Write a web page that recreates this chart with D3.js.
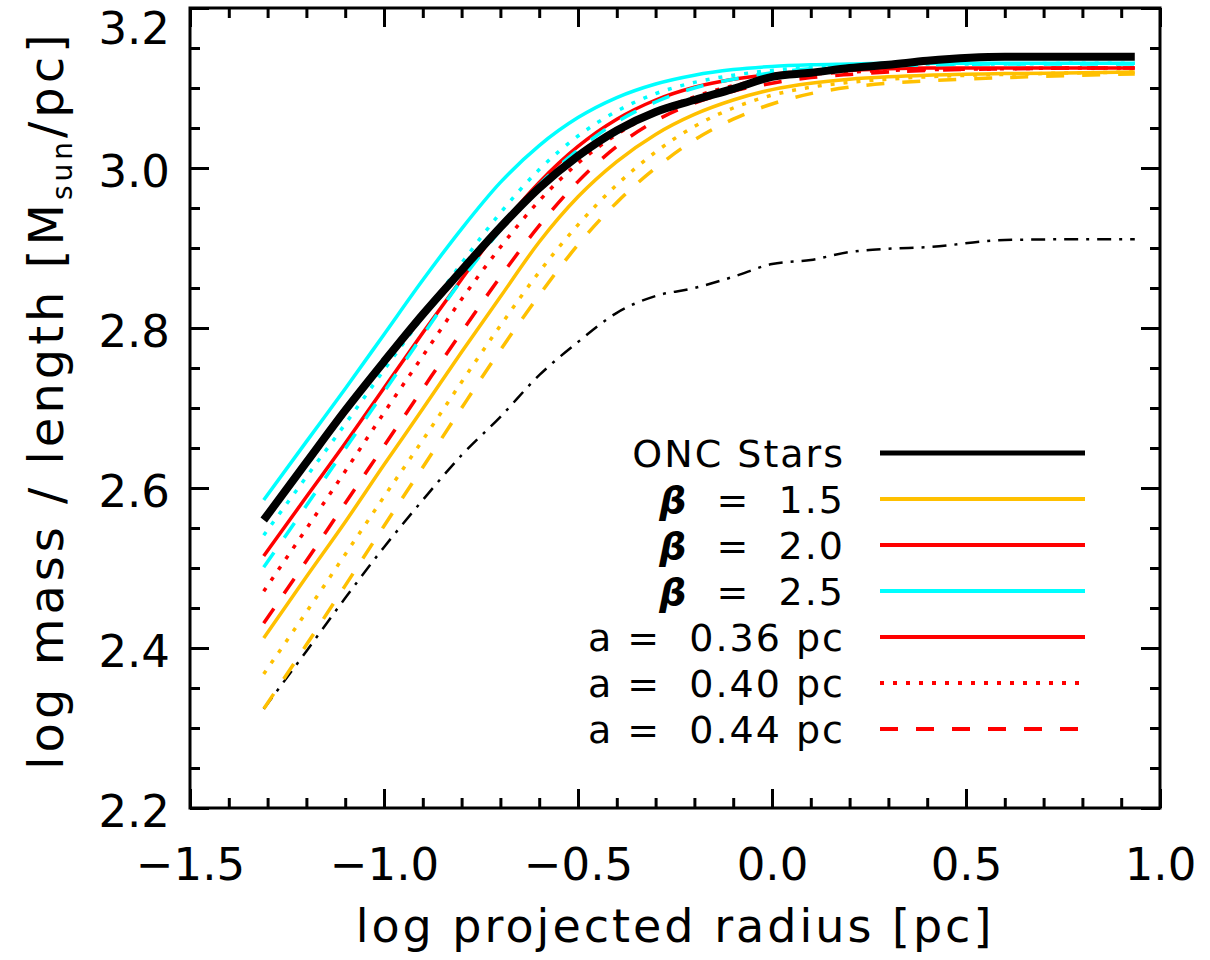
<!DOCTYPE html>
<html>
<head>
<meta charset="utf-8">
<script src="https://cdn.jsdelivr.net/npm/d3@7"></script>
<style>
    body { margin: 0; background: #fff; }
    text { font-family: "DejaVu Sans", sans-serif; fill: #000; }
</style>
</head>
<body>
<div id="chart"></div>
<script>
// log projected radius (pc) shared by all curves
var logR = [-1.31, -1.2, -1.1, -1.0, -0.9, -0.8, -0.7, -0.6, -0.5, -0.4, -0.3, -0.2, -0.1, 0.0, 0.1, 0.2, 0.3, 0.4, 0.6, 0.8, 0.935];

// log mass / length
var oncStars = [2.56, 2.632, 2.697, 2.758, 2.817, 2.872, 2.926, 2.975, 3.015, 3.047, 3.07, 3.085, 3.099, 3.114, 3.119, 3.125, 3.129, 3.134, 3.139, 3.139, 3.139];
var gasCurve = [2.324, 2.396, 2.4625, 2.526, 2.585, 2.641, 2.689, 2.741, 2.7825, 2.819, 2.84, 2.85, 2.864, 2.88, 2.885, 2.895, 2.899, 2.901, 2.91, 2.911, 2.911];

var beta15a36 = [2.4125, 2.489, 2.5575, 2.629, 2.699, 2.77, 2.839, 2.9075, 2.964, 3.008, 3.042, 3.067, 3.085, 3.098, 3.106, 3.111, 3.114, 3.116, 3.118, 3.119, 3.12];
var beta15a40 = [2.3675, 2.445, 2.517, 2.589, 2.66, 2.7325, 2.803, 2.87, 2.929, 2.979, 3.02, 3.052, 3.075, 3.091, 3.101, 3.107, 3.111, 3.114, 3.117, 3.119, 3.12];
var beta15a44 = [2.324, 2.404, 2.478, 2.5525, 2.626, 2.7, 2.7725, 2.841, 2.904, 2.957, 3.0, 3.035, 3.061, 3.08, 3.093, 3.101, 3.106, 3.109, 3.113, 3.116, 3.1175];

var beta20a36 = [2.515, 2.589, 2.656, 2.725, 2.794, 2.861, 2.926, 2.982, 3.027, 3.061, 3.085, 3.101, 3.111, 3.117, 3.12, 3.122, 3.124, 3.125, 3.125, 3.125, 3.125];
var beta20a40 = [2.471, 2.549, 2.621, 2.694, 2.765, 2.836, 2.901, 2.959, 3.006, 3.042, 3.069, 3.089, 3.103, 3.112, 3.117, 3.12, 3.122, 3.123, 3.124, 3.125, 3.125];
var beta20a44 = [2.431, 2.509, 2.581, 2.6525, 2.724, 2.795, 2.864, 2.928, 2.983, 3.027, 3.059, 3.081, 3.096, 3.106, 3.113, 3.117, 3.12, 3.122, 3.124, 3.125, 3.125];

var beta25a36 = [2.585, 2.658, 2.724, 2.792, 2.86, 2.924, 2.982, 3.028, 3.063, 3.088, 3.105, 3.116, 3.123, 3.127, 3.129, 3.13, 3.131, 3.131, 3.131, 3.131, 3.131];
var beta25a40 = [2.541, 2.614, 2.68, 2.7475, 2.814, 2.881, 2.944, 2.998, 3.04, 3.071, 3.093, 3.107, 3.116, 3.122, 3.126, 3.128, 3.129, 3.13, 3.13, 3.131, 3.131];
var beta25a44 = [2.501, 2.578, 2.649, 2.72, 2.791, 2.86, 2.9225, 2.979, 3.0225, 3.0575, 3.0825, 3.1, 3.111, 3.119, 3.124, 3.126, 3.1275, 3.129, 3.13, 3.13, 3.13];

// ticks
var xMajorTicks = [-1.5, -1.0, -0.5, 0.0, 0.5, 1.0];
var xTickLabels = ["\u22121.5", "\u22121.0", "\u22120.5", "0.0", "0.5", "1.0"];
var yMajorTicks = [2.2, 2.4, 2.6, 2.8, 3.0, 3.2];
var yTickLabels = ["2.2", "2.4", "2.6", "2.8", "3.0", "3.2"];

var YELLOW = "#ffc000", RED = "#ff0000", CYAN = "#00ffff";
var DOT = "4,9", DASH = "18,18", DASHDOT = "14,8,3,8";

var series = [
    { values: gasCurve, color: "#000", width: 2.5, dash: DASHDOT },
    { values: beta15a44, color: YELLOW, width: 3.5, dash: DASH },
    { values: beta15a40, color: YELLOW, width: 3.5, dash: DOT },
    { values: beta15a36, color: YELLOW, width: 3.5, dash: null },
    { values: beta20a44, color: RED, width: 3.5, dash: DASH },
    { values: beta20a40, color: RED, width: 3.5, dash: DOT },
    { values: beta20a36, color: RED, width: 3.5, dash: null },
    { values: beta25a44, color: CYAN, width: 3.5, dash: DASH },
    { values: beta25a40, color: CYAN, width: 3.5, dash: DOT },
    { values: beta25a36, color: CYAN, width: 3.5, dash: null },
    { values: oncStars, color: "#000", width: 8, dash: null }
];

var legend = [
    { beta: false, text: "ONC Stars", color: "#000", width: 5, dash: null },
    { beta: true, text: " =  1.5", color: YELLOW, width: 4, dash: null },
    { beta: true, text: " =  2.0", color: RED, width: 4, dash: null },
    { beta: true, text: " =  2.5", color: CYAN, width: 4, dash: null },
    { beta: false, text: "a =  0.36 pc", color: RED, width: 4, dash: null },
    { beta: false, text: "a =  0.40 pc", color: RED, width: 4, dash: DOT },
    { beta: false, text: "a =  0.44 pc", color: RED, width: 4, dash: DASH }
];

var margin = { top: 8, right: 50, bottom: 152, left: 190 };
var width = 1210 - margin.left - margin.right,
    height = 960 - margin.top - margin.bottom;

var svg = d3.select("#chart").append("svg")
    .attr("width", 1210)
    .attr("height", 960)
    .append("g")
    .attr("transform", "translate(" + margin.left + "," + margin.top + ")");

var x = d3.scaleLinear().domain([-1.5, 1.0]).range([0, width]);
var y = d3.scaleLinear().domain([2.2, 3.2]).range([height, 0]);

var xMinor = d3.range(-15, 11).map(function (d) { return d / 10; });
var yMinor = d3.range(44, 65).map(function (d) { return d / 20; });

function styleAxis(g) {
    g.select(".domain").remove();
    g.selectAll(".tick line").attr("stroke", "#000").attr("stroke-width", 3);
    g.selectAll(".tick text").attr("font-size", 45).attr("fill", "#000")
        .style("font-family", "'DejaVu Sans', sans-serif");
}

// minor ticks on all four sides
svg.append("g").attr("transform", "translate(0," + height + ")")
    .call(d3.axisBottom(x).tickValues(xMinor).tickSize(-10).tickFormat("")).call(styleAxis);
svg.append("g")
    .call(d3.axisTop(x).tickValues(xMinor).tickSize(-10).tickFormat("")).call(styleAxis);
svg.append("g")
    .call(d3.axisLeft(y).tickValues(yMinor).tickSize(-10).tickFormat("")).call(styleAxis);
svg.append("g").attr("transform", "translate(" + width + ",0)")
    .call(d3.axisRight(y).tickValues(yMinor).tickSize(-10).tickFormat("")).call(styleAxis);

// major ticks
svg.append("g").attr("transform", "translate(0," + height + ")")
    .call(d3.axisBottom(x).tickValues(xMajorTicks).tickSize(-19).tickPadding(40)
        .tickFormat(function (d, i) { return xTickLabels[i]; }))
    .call(styleAxis);
svg.append("g")
    .call(d3.axisTop(x).tickValues(xMajorTicks).tickSize(-19).tickFormat("")).call(styleAxis);
var yAxisG = svg.append("g")
    .call(d3.axisLeft(y).tickValues(yMajorTicks).tickSize(-19).tickPadding(20)
        .tickFormat(function (d, i) { return yTickLabels[i]; }))
    .call(styleAxis);
yAxisG.selectAll(".tick text").attr("dy", "0.4em");
// top label sits lower so it stays inside the page
yAxisG.selectAll(".tick text").filter(function (d) { return d === 3.2; }).attr("dy", "0.78em");
svg.append("g").attr("transform", "translate(" + width + ",0)")
    .call(d3.axisRight(y).tickValues(yMajorTicks).tickSize(-19).tickFormat("")).call(styleAxis);

svg.append("rect")
    .attr("width", width)
    .attr("height", height)
    .attr("fill", "none")
    .attr("stroke", "#000")
    .attr("stroke-width", 3);

var line = d3.line()
    .x(function (d, i) { return x(logR[i]); })
    .y(function (d) { return y(d); })
    .curve(d3.curveMonotoneX);

svg.selectAll(".curve")
    .data(series)
    .enter().append("path")
    .attr("class", "curve")
    .attr("d", function (d) { return line(d.values); })
    .attr("fill", "none")
    .attr("stroke", function (d) { return d.color; })
    .attr("stroke-width", function (d) { return d.width; })
    .attr("stroke-dasharray", function (d) { return d.dash; });

// legend
var rows = svg.append("g").selectAll(".row")
    .data(legend)
    .enter().append("g")
    .attr("class", "row")
    .attr("transform", function (d, i) { return "translate(0," + (445 + i * 46) + ")"; });

rows.append("line")
    .attr("x1", 690).attr("x2", 895)
    .attr("stroke", function (d) { return d.color; })
    .attr("stroke-width", function (d) { return d.width; })
    .attr("stroke-dasharray", function (d) { return d.dash; });

var lt = rows.append("text")
    .attr("x", 655)
    .attr("y", 14)
    .attr("text-anchor", "end")
    .attr("font-size", 38)
    .attr("letter-spacing", 2)
    .attr("xml:space", "preserve");
lt.filter(function (d) { return d.beta; }).append("tspan")
    .attr("font-weight", "bold").attr("font-style", "italic").text("\u03b2");
lt.append("tspan").text(function (d) { return d.beta ? " " + d.text : d.text; });

// axis titles
svg.append("text")
    .attr("x", width / 2)
    .attr("y", 934)
    .attr("text-anchor", "middle")
    .attr("font-size", 46)
    .attr("letter-spacing", 3)
    .text("log projected radius [pc]");

var yt = svg.append("text")
    .attr("transform", "translate(-127," + 392 + ") rotate(-90)")
    .attr("text-anchor", "middle")
    .attr("font-size", 48)
    .attr("letter-spacing", 4);
yt.append("tspan").text("log mass / length [M");
yt.append("tspan").attr("font-size", 28).attr("dy", 9).text("sun");
yt.append("tspan").attr("dy", -9).text("/pc]");
</script>
</body>
</html>
